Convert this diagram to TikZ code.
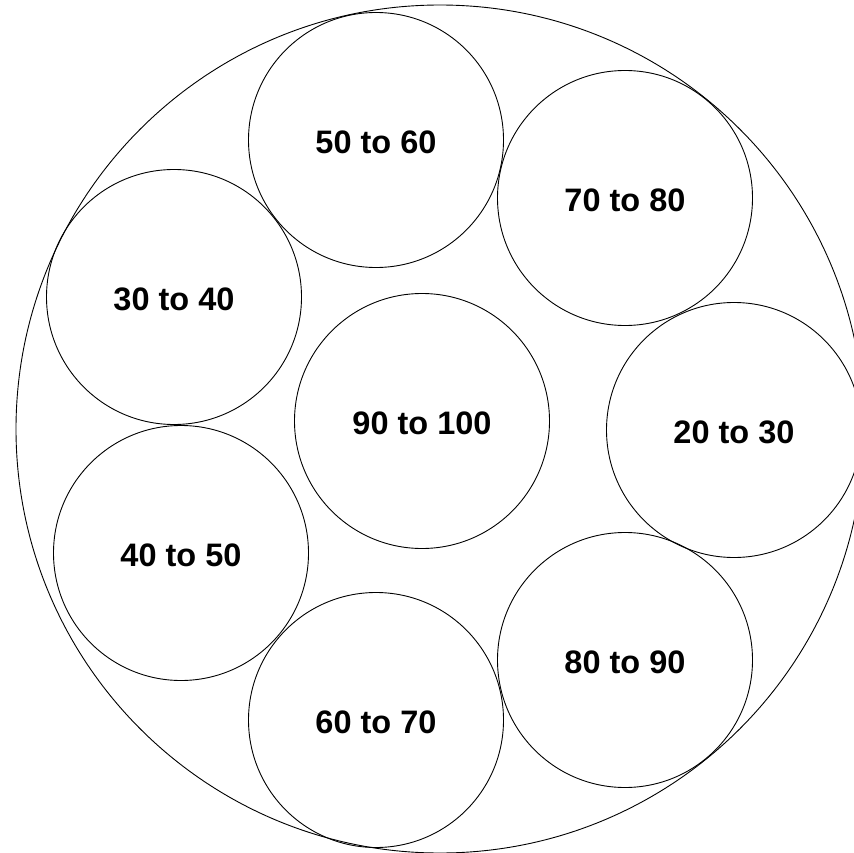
\documentclass[tikz,border=0pt]{standalone}
\usepackage{fontspec}
\setmainfont{Liberation Sans}
\begin{document}
\begin{tikzpicture}[x=1pt,y=-1pt,
  ring/.style={circle,draw=black,line width=0.9pt,minimum size=255pt,inner sep=0pt,
    text height=27pt,text depth=0pt,
    font=\fontsize{32.5}{38}\selectfont\bfseries}]
\useasboundingbox (0,0) rectangle (854,853);
\node[circle,draw=black,line width=0.9pt,minimum size=848pt,inner sep=0pt] (outer) at (440,429) {};
\node[ring] (c5060) at (376,140) {50 to 60};
\node[ring] (c7080) at (625,198) {70 to 80};
\node[ring] (c3040) at (174,297) {30 to 40};
\node[ring] (c90100) at (422,421) {90 to 100};
\node[ring] (c2030) at (734,430) {20 to 30};
\node[ring] (c4050) at (181,553) {40 to 50};
\node[ring] (c8090) at (625,660) {80 to 90};
\node[ring] (c6070) at (376,720) {60 to 70};
\end{tikzpicture}
\end{document}
